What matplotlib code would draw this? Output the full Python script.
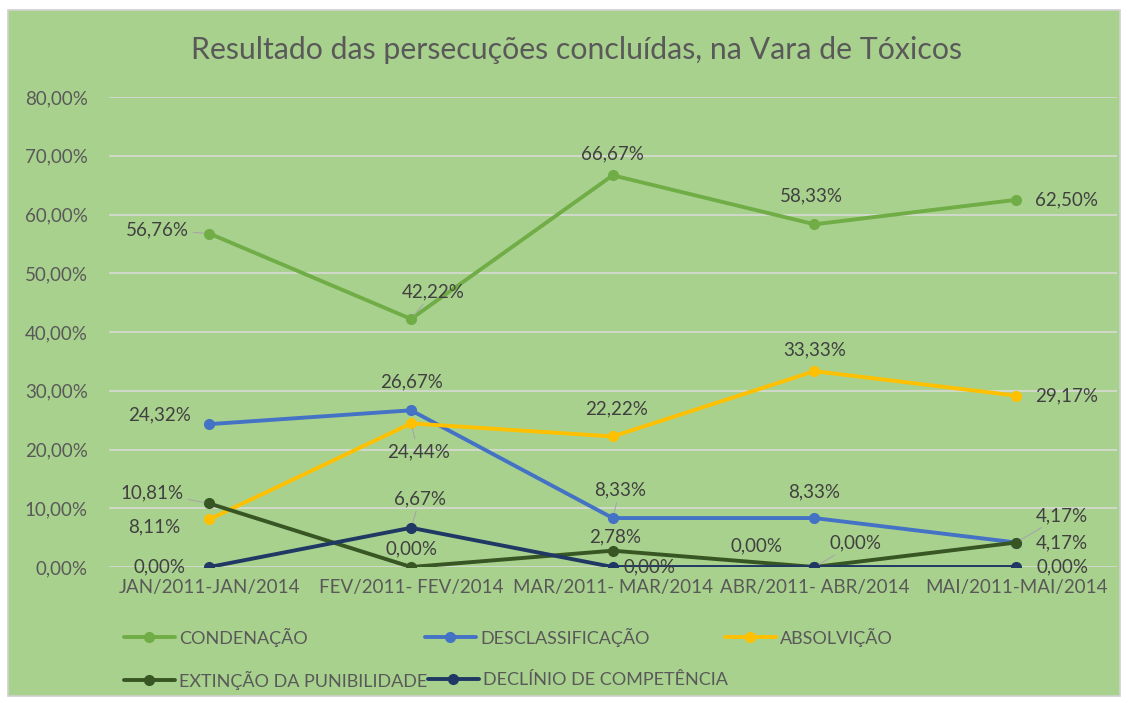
import matplotlib
matplotlib.use("Agg")
import matplotlib.pyplot as plt
from matplotlib.patches import Rectangle
from matplotlib.ticker import FuncFormatter

categories = ["JAN/2011-JAN/2014", "FEV/2011- FEV/2014", "MAR/2011- MAR/2014",
              "ABR/2011- ABR/2014", "MAI/2011-MAI/2014"]
condenacao = [56.76, 42.22, 66.67, 58.33, 62.50]
desclassificacao = [24.32, 26.67, 8.33, 8.33, 4.17]
absolvicao = [8.11, 24.44, 22.22, 33.33, 29.17]
extincao = [10.81, 0.00, 2.78, 0.00, 4.17]
declinio = [0.00, 6.67, 0.00, 0.00, 0.00]
series_names = ["CONDENAÇÃO", "DESCLASSIFICAÇÃO", "ABSOLVIÇÃO",
                "EXTINÇÃO DA PUNIBILIDADE", "DECLÍNIO DE COMPETÊNCIA"]
title = "Resultado das persecuções concluídas, na Vara de Tóxicos"

colors = ["#70AD47", "#4472C4", "#FFC000", "#375623", "#203864"]
# label offsets in pixels (dx, dy) and whether a leader line is drawn
offsets = [
    [(-52, 4, True), (22, 27, True), (0, 21, False), (-3, 28, False), (50, 0, False)],
    [(-50, 9, False), (0, 28, False), (7, 28, True), (0, 26, False), (46, 27, True)],
    [(-55, -8, False), (7, -28, True), (4, 28, False), (0, 21, False), (50, 0, False)],
    [(-57, 11, True), (0, 18, False), (2, 14, False), (-58, 21, False), (46, 0, False)],
    [(-50, 0, False), (9, 29, True), (37, 0, False), (41, 24, True), (46, 0, False)],
]
# legend entry anchors (pixel x of handle start, pixel y of row centre)
legend_pos = [(124, 637), (425, 637), (725, 637), (124, 680), (428, 680)]

plt.rcParams['font.family'] = ['Lato', 'DejaVu Sans']
txt = "#595959"
bg = "#A9D18E"

fig = plt.figure(figsize=(11.29, 7.03), dpi=100, facecolor="white")
fig.patches.append(Rectangle((8/1129, 1-696/703), 1112/1129, 686/703,
                             transform=fig.transFigure, facecolor=bg,
                             edgecolor="#D0D0D0", lw=1.2, zorder=-5))
ax = fig.add_axes([108.5/1129, 1-567/703, (1117-108.5)/1129, (567-97)/703])
ax.set_facecolor("none")

all_series = [condenacao, desclassificacao, absolvicao, extincao, declinio]
x = list(range(len(categories)))
handles = []
for s, name, c, offs in zip(all_series, series_names, colors, offsets):
    h, = ax.plot(x, s, color=c, lw=2.8, marker="o", markersize=7,
                 label=name, zorder=3, solid_capstyle="round")
    handles.append(h)
    for xi, v, (dx, dy, lead) in zip(x, s, offs):
        kw = {}
        if lead:
            kw["arrowprops"] = dict(arrowstyle="-", color="#A6A6A6", lw=0.8,
                                    shrinkA=1, shrinkB=4)
        ax.annotate(f"{v:.2f}%".replace(".", ","), xy=(xi, v),
                    xytext=(dx, dy), textcoords="offset pixels",
                    ha="center", va="center", fontsize=13.5, color="#404040",
                    zorder=4, **kw)

ax.set_xlim(-0.5, 4.5)
ax.set_ylim(0, 80)
ax.set_yticks(range(0, 81, 10))
ax.yaxis.set_major_formatter(FuncFormatter(lambda v, p: f"{v:.2f}%".replace(".", ",")))
ax.set_xticks(x)
ax.set_xticklabels(categories)
ax.grid(axis="y", color="#DCDCDC", lw=1.1, zorder=1)
ax.set_axisbelow(True)
for sp in ax.spines.values():
    sp.set_visible(False)
ax.tick_params(axis="both", length=0, colors=txt, labelsize=13.5)
ax.tick_params(axis="y", pad=15)
ax.tick_params(axis="x", pad=9)

fig.text(0.511, 1-50/703, title, ha="center", va="center", fontsize=21.8, color=txt)

for h, name, (px, py) in zip(handles, series_names, legend_pos):
    fig.legend([h], [name], loc="center left", bbox_to_anchor=(px/1129, 1-py/703),
               frameon=False, handlelength=2.8, handletextpad=0.25,
               borderpad=0, borderaxespad=0, labelcolor=txt, fontsize=13)

fig.savefig("out.png", dpi=100, facecolor="white")
